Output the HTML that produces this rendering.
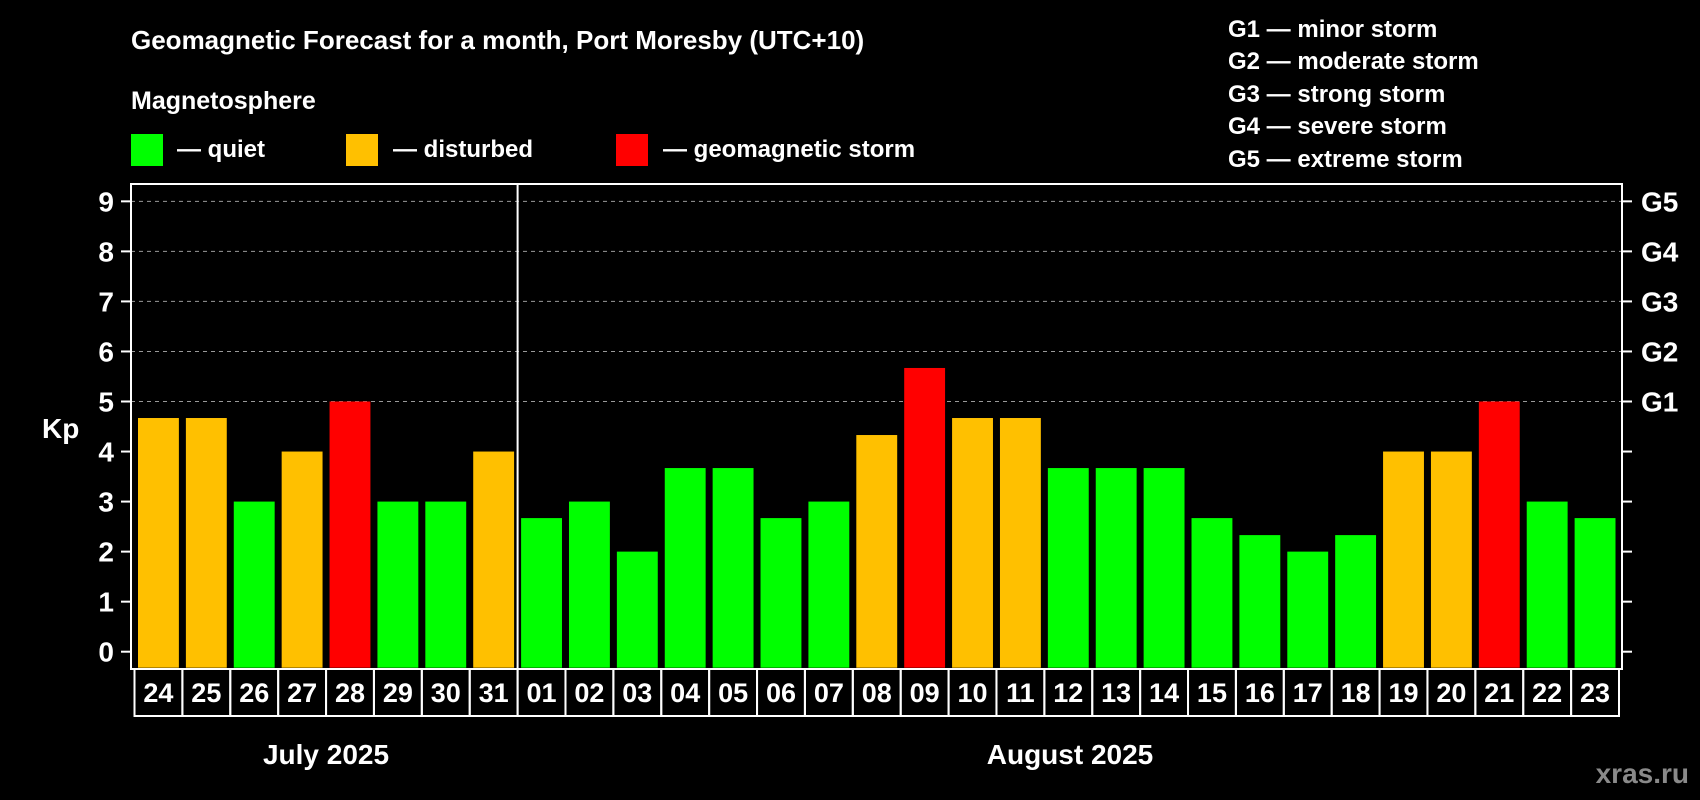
<!DOCTYPE html>
<html><head><meta charset="utf-8">
<style>
html,body{margin:0;padding:0;background:#000;}
svg{display:block;}
text{font-family:"Liberation Sans",Arial,sans-serif;font-weight:bold;fill:#fff;}
</style></head>
<body>
<svg id="chart" width="1700" height="800" viewBox="0 0 1700 800">
<rect width="1700" height="800" fill="#000"/>
<text x="131" y="49" font-size="26">Geomagnetic Forecast for a month, Port Moresby (UTC+10)</text>
<text x="131" y="109" font-size="25">Magnetosphere</text>
<g><rect x="131" y="134" width="32" height="32" fill="#00ff00"/><text x="177" y="157" font-size="24">— quiet</text></g>
<g><rect x="346" y="134" width="32" height="32" fill="#ffc000"/><text x="393" y="157" font-size="24">— disturbed</text></g>
<g><rect x="616" y="134" width="32" height="32" fill="#ff0000"/><text x="663" y="157" font-size="24">— geomagnetic storm</text></g>
<g font-size="24">
<text x="1228" y="37">G1 — minor storm</text>
<text x="1228" y="69">G2 — moderate storm</text>
<text x="1228" y="102">G3 — strong storm</text>
<text x="1228" y="134">G4 — severe storm</text>
<text x="1228" y="167">G5 — extreme storm</text>
</g>
<text x="42" y="438" font-size="28">Kp</text>
<g id="grid"></g>
<g id="bars"></g>
<g id="axes"></g>
<text x="326" y="764" font-size="28" text-anchor="middle">July 2025</text>
<text x="1070" y="764" font-size="28" text-anchor="middle">August 2025</text>
<text x="1689" y="783" font-size="28" text-anchor="end" style="fill:#8a8a8a">xras.ru</text>
</svg>
<script>
const days = ["24","25","26","27","28","29","30","31","01","02","03","04","05","06","07","08","09","10","11","12","13","14","15","16","17","18","19","20","21","22","23"];
const kp = [4.67,4.67,3,4,5,3,3,4,2.67,3,2,3.67,3.67,2.67,3,4.33,5.67,4.67,4.67,3.67,3.67,3.67,2.67,2.33,2,2.33,4,4,5,3,2.67];
const yTicks = [0,1,2,3,4,5,6,7,8,9];
const gLabels = ["G1","G2","G3","G4","G5"];
const gLevels = [5,6,7,8,9];

const NS = "http://www.w3.org/2000/svg";
const L = 131, R = 1622, T = 184, B = 669;
const y0 = 651.7, unit = 50.04;
const slotX0 = 134.5, slot = (R - 3 - slotX0) / days.length;
function yScale(v){ return y0 - v * unit; }
function xScale(i){ return slotX0 + i * slot; }
function color(v){ return v >= 5 ? "#ff0000" : (v >= 4 ? "#ffc000" : "#00ff00"); }
function mk(tag, attrs, parent){ const e = document.createElementNS(NS, tag); for (const k in attrs) e.setAttribute(k, attrs[k]); parent.appendChild(e); return e; }

const grid = document.getElementById("grid");
const bars = document.getElementById("bars");
const axes = document.getElementById("axes");

yTicks.forEach(t => {
  const y = yScale(t);
  if (t >= 5) {
    const gl = mk("line", {x1:L, x2:R, y1:y, y2:y, stroke:"#999", "stroke-width":1, "stroke-dasharray":"4,4"}, grid);
    
    
  }
  const tk = mk("line", {x1:L-10, x2:L, y1:y, y2:y, stroke:"#fff", "stroke-width":2}, axes);
  
  
  const tr = mk("line", {x1:R, x2:R+10, y1:y, y2:y, stroke:"#fff", "stroke-width":2}, axes);
  
  
  const lb = mk("text", {x:114, y:y+10, "font-size":28, "text-anchor":"end"}, axes);
  lb.textContent = t;
  
  
});
gLabels.forEach((g, i) => {
  const lb = mk("text", {x:1641, y:yScale(gLevels[i])+10, "font-size":28}, axes);
  lb.textContent = g;
  
  
});

kp.forEach((v, i) => {
  const x = xScale(i);
  const b = mk("rect", {x:x+3.5, y:yScale(v), width:slot-7, height:y0 + 16 - yScale(v), fill:color(v)}, bars);
  
  
  const c = mk("rect", {x:x, y:B, width:slot, height:47, fill:"none", stroke:"#fff", "stroke-width":2}, axes);
  
  
  const t = mk("text", {x:x+slot/2, y:B+33, "font-size":27, "text-anchor":"middle"}, axes);
  t.textContent = days[i];
  
  
});

const fr = mk("rect", {x:L, y:T, width:R-L, height:B-T, fill:"none", stroke:"#fff", "stroke-width":2}, axes);


const sep = mk("line", {x1:xScale(8), x2:xScale(8), y1:T, y2:B, stroke:"#fff", "stroke-width":2}, axes);


</script>
</body></html>
